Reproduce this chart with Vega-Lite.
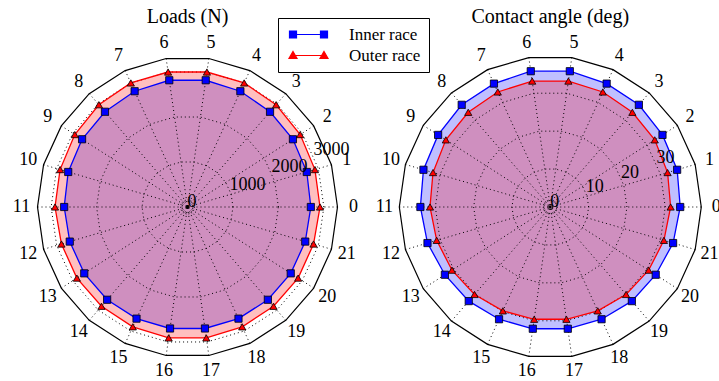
{
  "$schema": "https://vega.github.io/schema/vega-lite/v6.json",
  "padding": {"top": 7, "left": 0, "right": 0, "bottom": 0},
  "spacing": 0.5,
  "config": {
    "view": {"stroke": null},
    "title": {"font": "Liberation Serif", "fontSize": 20, "fontWeight": "normal", "color": "black", "offset": 4, "baseline": "alphabetic", "anchor": "middle"},
    "text": {"font": "Liberation Serif", "fontSize": 18, "color": "black"}
  },
  "datasets": {
    "loads": [
      {"i": 0, "series": "Inner race", "value": 2713}, {"i": 1, "series": "Inner race", "value": 2735}, {"i": 2, "series": "Inner race", "value": 2757}, {"i": 3, "series": "Inner race", "value": 2773}, {"i": 4, "series": "Inner race", "value": 2800}, {"i": 5, "series": "Inner race", "value": 2817}, {"i": 6, "series": "Inner race", "value": 2817}, {"i": 7, "series": "Inner race", "value": 2800}, {"i": 8, "series": "Inner race", "value": 2773}, {"i": 9, "series": "Inner race", "value": 2757}, {"i": 10, "series": "Inner race", "value": 2735}, {"i": 11, "series": "Inner race", "value": 2713}, {"i": 12, "series": "Inner race", "value": 2700}, {"i": 13, "series": "Inner race", "value": 2700}, {"i": 14, "series": "Inner race", "value": 2700}, {"i": 15, "series": "Inner race", "value": 2700}, {"i": 16, "series": "Inner race", "value": 2700}, {"i": 17, "series": "Inner race", "value": 2700}, {"i": 18, "series": "Inner race", "value": 2700}, {"i": 19, "series": "Inner race", "value": 2700}, {"i": 20, "series": "Inner race", "value": 2700}, {"i": 21, "series": "Inner race", "value": 2700},
      {"i": 0, "series": "Outer race", "value": 2915}, {"i": 1, "series": "Outer race", "value": 2922}, {"i": 2, "series": "Outer race", "value": 2947}, {"i": 3, "series": "Outer race", "value": 2977}, {"i": 4, "series": "Outer race", "value": 3000}, {"i": 5, "series": "Outer race", "value": 3000}, {"i": 6, "series": "Outer race", "value": 3000}, {"i": 7, "series": "Outer race", "value": 3000}, {"i": 8, "series": "Outer race", "value": 2977}, {"i": 9, "series": "Outer race", "value": 2947}, {"i": 10, "series": "Outer race", "value": 2922}, {"i": 11, "series": "Outer race", "value": 2915}, {"i": 12, "series": "Outer race", "value": 2890}, {"i": 13, "series": "Outer race", "value": 2893}, {"i": 14, "series": "Outer race", "value": 2890}, {"i": 15, "series": "Outer race", "value": 2898}, {"i": 16, "series": "Outer race", "value": 2910}, {"i": 17, "series": "Outer race", "value": 2910}, {"i": 18, "series": "Outer race", "value": 2898}, {"i": 19, "series": "Outer race", "value": 2890}, {"i": 20, "series": "Outer race", "value": 2893}, {"i": 21, "series": "Outer race", "value": 2890}
    ],
    "contact": [
      {"i": 0, "series": "Inner race", "value": 33.9}, {"i": 1, "series": "Inner race", "value": 34.5}, {"i": 2, "series": "Inner race", "value": 34.8}, {"i": 3, "series": "Inner race", "value": 35.3}, {"i": 4, "series": "Inner race", "value": 35.4}, {"i": 5, "series": "Inner race", "value": 35.8}, {"i": 6, "series": "Inner race", "value": 35.8}, {"i": 7, "series": "Inner race", "value": 35.4}, {"i": 8, "series": "Inner race", "value": 35.3}, {"i": 9, "series": "Inner race", "value": 34.8}, {"i": 10, "series": "Inner race", "value": 34.5}, {"i": 11, "series": "Inner race", "value": 33.9}, {"i": 12, "series": "Inner race", "value": 33.4}, {"i": 13, "series": "Inner race", "value": 32.7}, {"i": 14, "series": "Inner race", "value": 32.5}, {"i": 15, "series": "Inner race", "value": 32.2}, {"i": 16, "series": "Inner race", "value": 32.1}, {"i": 17, "series": "Inner race", "value": 32.1}, {"i": 18, "series": "Inner race", "value": 32.2}, {"i": 19, "series": "Inner race", "value": 32.5}, {"i": 20, "series": "Inner race", "value": 32.7}, {"i": 21, "series": "Inner race", "value": 33.4},
      {"i": 0, "series": "Outer race", "value": 31.4}, {"i": 1, "series": "Outer race", "value": 31.9}, {"i": 2, "series": "Outer race", "value": 32.4}, {"i": 3, "series": "Outer race", "value": 32.7}, {"i": 4, "series": "Outer race", "value": 33.0}, {"i": 5, "series": "Outer race", "value": 33.2}, {"i": 6, "series": "Outer race", "value": 33.2}, {"i": 7, "series": "Outer race", "value": 33.0}, {"i": 8, "series": "Outer race", "value": 32.7}, {"i": 9, "series": "Outer race", "value": 32.4}, {"i": 10, "series": "Outer race", "value": 31.9}, {"i": 11, "series": "Outer race", "value": 31.4}, {"i": 12, "series": "Outer race", "value": 30.9}, {"i": 13, "series": "Outer race", "value": 30.5}, {"i": 14, "series": "Outer race", "value": 30.2}, {"i": 15, "series": "Outer race", "value": 29.8}, {"i": 16, "series": "Outer race", "value": 29.6}, {"i": 17, "series": "Outer race", "value": 29.6}, {"i": 18, "series": "Outer race", "value": 29.8}, {"i": 19, "series": "Outer race", "value": 30.2}, {"i": 20, "series": "Outer race", "value": 30.5}, {"i": 21, "series": "Outer race", "value": 30.9}
    ],
    "angles": [
      {"i": 0}, {"i": 1}, {"i": 2}, {"i": 3}, {"i": 4}, {"i": 5}, {"i": 6}, {"i": 7}, {"i": 8}, {"i": 9}, {"i": 10}, {"i": 11}, {"i": 12}, {"i": 13}, {"i": 14}, {"i": 15}, {"i": 16}, {"i": 17}, {"i": 18}, {"i": 19}, {"i": 20}, {"i": 21}
    ],
    "lgrid": [
      {"level": 1000, "i": [0,1,2,3,4,5,6,7,8,9,10,11,12,13,14,15,16,17,18,19,20,21]},
      {"level": 2000, "i": [0,1,2,3,4,5,6,7,8,9,10,11,12,13,14,15,16,17,18,19,20,21]},
      {"level": 3000, "i": [0,1,2,3,4,5,6,7,8,9,10,11,12,13,14,15,16,17,18,19,20,21]}
    ],
    "cgrid": [
      {"level": 10, "i": [0,1,2,3,4,5,6,7,8,9,10,11,12,13,14,15,16,17,18,19,20,21]},
      {"level": 20, "i": [0,1,2,3,4,5,6,7,8,9,10,11,12,13,14,15,16,17,18,19,20,21]},
      {"level": 30, "i": [0,1,2,3,4,5,6,7,8,9,10,11,12,13,14,15,16,17,18,19,20,21]}
    ],
    "lticks": [{"level": 0}, {"level": 1000}, {"level": 2000}, {"level": 3000}],
    "cticks": [{"level": 0}, {"level": 10}, {"level": 20}, {"level": 30}],
    "center": [{"level": 0}]
  },
  "resolve": {"scale": {"x": "independent", "y": "independent"}},
  "hconcat": [
    {
      "width": 375,
      "height": 352,
      "title": {"text": "Loads (N)"},
      "encoding": {
        "x": {"field": "x", "type": "quantitative", "scale": {"domain": [-4125, 4125], "nice": false, "zero": false}, "axis": null},
        "y": {"field": "y", "type": "quantitative", "scale": {"domain": [-3872, 3872], "nice": false, "zero": false}, "axis": null}
      },
      "layer": [
        {
          "data": {"name": "loads"},
          "transform": [{"filter": "datum.series === 'Inner race'"}, {"calculate": "datum.value*cos(datum.i*PI/11)", "as": "x"}, {"calculate": "datum.value*sin(datum.i*PI/11)", "as": "y"}],
          "mark": {"type": "line", "interpolate": "linear-closed", "fill": "#0000ff", "fillOpacity": 0.25, "strokeWidth": 0, "strokeOpacity": 0},
          "encoding": {"order": {"field": "i", "type": "quantitative"}}
        },
        {
          "data": {"name": "loads"},
          "transform": [{"filter": "datum.series === 'Outer race'"}, {"calculate": "datum.value*cos(datum.i*PI/11)", "as": "x"}, {"calculate": "datum.value*sin(datum.i*PI/11)", "as": "y"}],
          "mark": {"type": "line", "interpolate": "linear-closed", "fill": "#ff0000", "fillOpacity": 0.25, "strokeWidth": 0, "strokeOpacity": 0},
          "encoding": {"order": {"field": "i", "type": "quantitative"}}
        },
        {
          "data": {"name": "lgrid"},
          "transform": [{"flatten": ["i"]}, {"calculate": "datum.level*cos(datum.i*PI/11)", "as": "x"}, {"calculate": "datum.level*sin(datum.i*PI/11)", "as": "y"}],
          "mark": {"type": "line", "interpolate": "linear-closed", "stroke": "black", "strokeWidth": 1, "strokeDash": [1, 3]},
          "encoding": {"detail": {"field": "level", "type": "nominal"}, "order": {"field": "i", "type": "quantitative"}}
        },
        {
          "data": {"name": "angles"},
          "transform": [{"calculate": "3300*cos(datum.i*PI/11)", "as": "x"}, {"calculate": "3300*sin(datum.i*PI/11)", "as": "y"}, {"calculate": "0", "as": "x0"}, {"calculate": "0", "as": "y0"}],
          "mark": {"type": "rule", "stroke": "black", "strokeWidth": 1, "strokeDash": [1, 3]},
          "encoding": {"x2": {"field": "x0"}, "y2": {"field": "y0"}}
        },
        {
          "data": {"name": "loads"},
          "transform": [{"filter": "datum.series === 'Inner race'"}, {"calculate": "datum.value*cos(datum.i*PI/11)", "as": "x"}, {"calculate": "datum.value*sin(datum.i*PI/11)", "as": "y"}],
          "mark": {"type": "line", "interpolate": "linear-closed", "stroke": "#0000ff", "strokeWidth": 1.3},
          "encoding": {"order": {"field": "i", "type": "quantitative"}}
        },
        {
          "data": {"name": "loads"},
          "transform": [{"filter": "datum.series === 'Outer race'"}, {"calculate": "datum.value*cos(datum.i*PI/11)", "as": "x"}, {"calculate": "datum.value*sin(datum.i*PI/11)", "as": "y"}],
          "mark": {"type": "line", "interpolate": "linear-closed", "stroke": "#ff0000", "strokeWidth": 1.3},
          "encoding": {"order": {"field": "i", "type": "quantitative"}}
        },
        {
          "data": {"name": "loads"},
          "transform": [{"filter": "datum.series === 'Inner race'"}, {"calculate": "datum.value*cos(datum.i*PI/11)", "as": "x"}, {"calculate": "datum.value*sin(datum.i*PI/11)", "as": "y"}],
          "mark": {"type": "point", "shape": "square", "filled": true, "fill": "#0000ff", "stroke": "black", "strokeWidth": 0.8, "size": 52, "opacity": 1}
        },
        {
          "data": {"name": "loads"},
          "transform": [{"filter": "datum.series === 'Outer race'"}, {"calculate": "datum.value*cos(datum.i*PI/11)", "as": "x"}, {"calculate": "datum.value*sin(datum.i*PI/11)", "as": "y"}],
          "mark": {"type": "point", "shape": "triangle-up", "filled": true, "fill": "#ff0000", "stroke": "black", "strokeWidth": 0.8, "size": 52, "opacity": 1}
        },
        {
          "data": {"name": "loads"},
          "transform": [{"filter": "false"}],
          "mark": {"type": "point", "filled": true, "size": 100, "strokeWidth": 1.2, "opacity": 1},
          "encoding": {
            "color": {"field": "series", "type": "nominal", "scale": {"domain": ["Inner race", "Outer race"], "range": ["#0000ff", "#ff0000"]},
              "legend": {"orient": "none", "legendX": 278, "legendY": -13, "title": null, "fillColor": "white", "strokeColor": "black", "padding": 8, "rowPadding": 3, "labelFont": "Liberation Serif", "labelFontSize": 17, "labelColor": "black", "symbolSize": 100, "symbolOffset": 14, "labelOffset": 32, "symbolStrokeWidth": 1.2, "symbolOpacity": 1}},
            "stroke": {"field": "series", "type": "nominal", "scale": {"domain": ["Inner race", "Outer race"], "range": ["#0000ff", "#ff0000"]},
              "legend": {"orient": "none", "legendX": 278, "legendY": -13, "title": null, "fillColor": "white", "strokeColor": "black", "padding": 8, "rowPadding": 3, "labelFont": "Liberation Serif", "labelFontSize": 17, "labelColor": "black", "symbolSize": 100, "symbolOffset": 14, "labelOffset": 32, "symbolStrokeWidth": 1.2, "symbolOpacity": 1}},
            "shape": {"field": "series", "type": "nominal", "scale": {"domain": ["Inner race", "Outer race"], "range": ["M-3.1,0H3.1M-3.8,-0.7H-2.4V0.7H-3.8ZM2.4,-0.7H3.8V0.7H2.4Z", "M-3.1,0H3.1M-3.1,-0.8L-2.3,0.6H-3.9ZM3.1,-0.8L3.9,0.6H2.3Z"]},
              "legend": {"orient": "none", "legendX": 278, "legendY": -13, "title": null, "fillColor": "white", "strokeColor": "black", "padding": 8, "rowPadding": 3, "labelFont": "Liberation Serif", "labelFontSize": 17, "labelColor": "black", "symbolSize": 100, "symbolOffset": 14, "labelOffset": 32, "symbolStrokeWidth": 1.2, "symbolOpacity": 1}}
          }
        },
        {
          "data": {"name": "angles"},
          "transform": [{"calculate": "3300*cos(datum.i*PI/11)", "as": "x"}, {"calculate": "3300*sin(datum.i*PI/11)", "as": "y"}],
          "mark": {"type": "line", "interpolate": "linear-closed", "stroke": "black", "strokeWidth": 1.2},
          "encoding": {"order": {"field": "i", "type": "quantitative"}}
        },
        {
          "data": {"name": "angles"},
          "transform": [{"calculate": "3652*cos(datum.i*PI/11)", "as": "x"}, {"calculate": "3652*sin(datum.i*PI/11)", "as": "y"}],
          "mark": {"type": "text", "align": "center", "baseline": "middle"},
          "encoding": {"text": {"field": "i", "type": "nominal"}}
        },
        {
          "data": {"name": "lticks"},
          "transform": [{"calculate": "datum.level*cos(PI/8)", "as": "x"}, {"calculate": "datum.level*sin(PI/8)", "as": "y"}],
          "mark": {"type": "text", "align": "left", "baseline": "alphabetic"},
          "encoding": {"text": {"field": "level", "type": "nominal"}}
        },
        {
          "data": {"name": "center"},
          "transform": [{"calculate": "datum.level", "as": "x"}, {"calculate": "datum.level", "as": "y"}],
          "mark": {"type": "point", "shape": "circle", "filled": false, "size": 196, "stroke": "black", "strokeWidth": 1, "strokeDash": [1, 2], "opacity": 1}
        },
        {
          "data": {"name": "center"},
          "transform": [{"calculate": "datum.level", "as": "x"}, {"calculate": "datum.level", "as": "y"}],
          "mark": {"type": "point", "shape": "circle", "filled": true, "size": 8, "color": "black", "opacity": 1}
        }
      ]
    },
    {
      "width": 339.6,
      "height": 352,
      "title": {"text": "Contact angle (deg)"},
      "encoding": {
        "x": {"field": "x", "type": "quantitative", "scale": {"domain": [-44.31, 44.31], "nice": false, "zero": false}, "axis": null},
        "y": {"field": "y", "type": "quantitative", "scale": {"domain": [-45.93, 45.93], "nice": false, "zero": false}, "axis": null}
      },
      "layer": [
        {
          "data": {"name": "contact"},
          "transform": [{"filter": "datum.series === 'Inner race'"}, {"calculate": "datum.value*cos(datum.i*PI/11)", "as": "x"}, {"calculate": "datum.value*sin(datum.i*PI/11)", "as": "y"}],
          "mark": {"type": "line", "interpolate": "linear-closed", "fill": "#0000ff", "fillOpacity": 0.25, "strokeWidth": 0, "strokeOpacity": 0},
          "encoding": {"order": {"field": "i", "type": "quantitative"}}
        },
        {
          "data": {"name": "contact"},
          "transform": [{"filter": "datum.series === 'Outer race'"}, {"calculate": "datum.value*cos(datum.i*PI/11)", "as": "x"}, {"calculate": "datum.value*sin(datum.i*PI/11)", "as": "y"}],
          "mark": {"type": "line", "interpolate": "linear-closed", "fill": "#ff0000", "fillOpacity": 0.25, "strokeWidth": 0, "strokeOpacity": 0},
          "encoding": {"order": {"field": "i", "type": "quantitative"}}
        },
        {
          "data": {"name": "cgrid"},
          "transform": [{"flatten": ["i"]}, {"calculate": "datum.level*cos(datum.i*PI/11)", "as": "x"}, {"calculate": "datum.level*sin(datum.i*PI/11)", "as": "y"}],
          "mark": {"type": "line", "interpolate": "linear-closed", "stroke": "black", "strokeWidth": 1, "strokeDash": [1, 3]},
          "encoding": {"detail": {"field": "level", "type": "nominal"}, "order": {"field": "i", "type": "quantitative"}}
        },
        {
          "data": {"name": "angles"},
          "transform": [{"calculate": "39.4*cos(datum.i*PI/11)", "as": "x"}, {"calculate": "39.4*sin(datum.i*PI/11)", "as": "y"}, {"calculate": "0", "as": "x0"}, {"calculate": "0", "as": "y0"}],
          "mark": {"type": "rule", "stroke": "black", "strokeWidth": 1, "strokeDash": [1, 3]},
          "encoding": {"x2": {"field": "x0"}, "y2": {"field": "y0"}}
        },
        {
          "data": {"name": "contact"},
          "transform": [{"filter": "datum.series === 'Inner race'"}, {"calculate": "datum.value*cos(datum.i*PI/11)", "as": "x"}, {"calculate": "datum.value*sin(datum.i*PI/11)", "as": "y"}],
          "mark": {"type": "line", "interpolate": "linear-closed", "stroke": "#0000ff", "strokeWidth": 1.3},
          "encoding": {"order": {"field": "i", "type": "quantitative"}}
        },
        {
          "data": {"name": "contact"},
          "transform": [{"filter": "datum.series === 'Outer race'"}, {"calculate": "datum.value*cos(datum.i*PI/11)", "as": "x"}, {"calculate": "datum.value*sin(datum.i*PI/11)", "as": "y"}],
          "mark": {"type": "line", "interpolate": "linear-closed", "stroke": "#ff0000", "strokeWidth": 1.3},
          "encoding": {"order": {"field": "i", "type": "quantitative"}}
        },
        {
          "data": {"name": "contact"},
          "transform": [{"filter": "datum.series === 'Inner race'"}, {"calculate": "datum.value*cos(datum.i*PI/11)", "as": "x"}, {"calculate": "datum.value*sin(datum.i*PI/11)", "as": "y"}],
          "mark": {"type": "point", "shape": "square", "filled": true, "fill": "#0000ff", "stroke": "black", "strokeWidth": 0.8, "size": 52, "opacity": 1}
        },
        {
          "data": {"name": "contact"},
          "transform": [{"filter": "datum.series === 'Outer race'"}, {"calculate": "datum.value*cos(datum.i*PI/11)", "as": "x"}, {"calculate": "datum.value*sin(datum.i*PI/11)", "as": "y"}],
          "mark": {"type": "point", "shape": "triangle-up", "filled": true, "fill": "#ff0000", "stroke": "black", "strokeWidth": 0.8, "size": 52, "opacity": 1}
        },
        {
          "data": {"name": "angles"},
          "transform": [{"calculate": "39.4*cos(datum.i*PI/11)", "as": "x"}, {"calculate": "39.4*sin(datum.i*PI/11)", "as": "y"}],
          "mark": {"type": "line", "interpolate": "linear-closed", "stroke": "black", "strokeWidth": 1.2},
          "encoding": {"order": {"field": "i", "type": "quantitative"}}
        },
        {
          "data": {"name": "angles"},
          "transform": [{"calculate": "43.3*cos(datum.i*PI/11)", "as": "x"}, {"calculate": "43.3*sin(datum.i*PI/11)", "as": "y"}],
          "mark": {"type": "text", "align": "center", "baseline": "middle"},
          "encoding": {"text": {"field": "i", "type": "nominal"}}
        },
        {
          "data": {"name": "cticks"},
          "transform": [{"calculate": "datum.level*cos(PI/8)", "as": "x"}, {"calculate": "datum.level*sin(PI/8)", "as": "y"}],
          "mark": {"type": "text", "align": "left", "baseline": "alphabetic"},
          "encoding": {"text": {"field": "level", "type": "nominal"}}
        },
        {
          "data": {"name": "center"},
          "transform": [{"calculate": "datum.level", "as": "x"}, {"calculate": "datum.level", "as": "y"}],
          "mark": {"type": "point", "shape": "circle", "filled": false, "size": 196, "stroke": "black", "strokeWidth": 1, "strokeDash": [1, 2], "opacity": 1}
        },
        {
          "data": {"name": "center"},
          "transform": [{"calculate": "datum.level", "as": "x"}, {"calculate": "datum.level", "as": "y"}],
          "mark": {"type": "point", "shape": "circle", "filled": true, "size": 8, "color": "black", "opacity": 1}
        }
      ]
    }
  ]
}
